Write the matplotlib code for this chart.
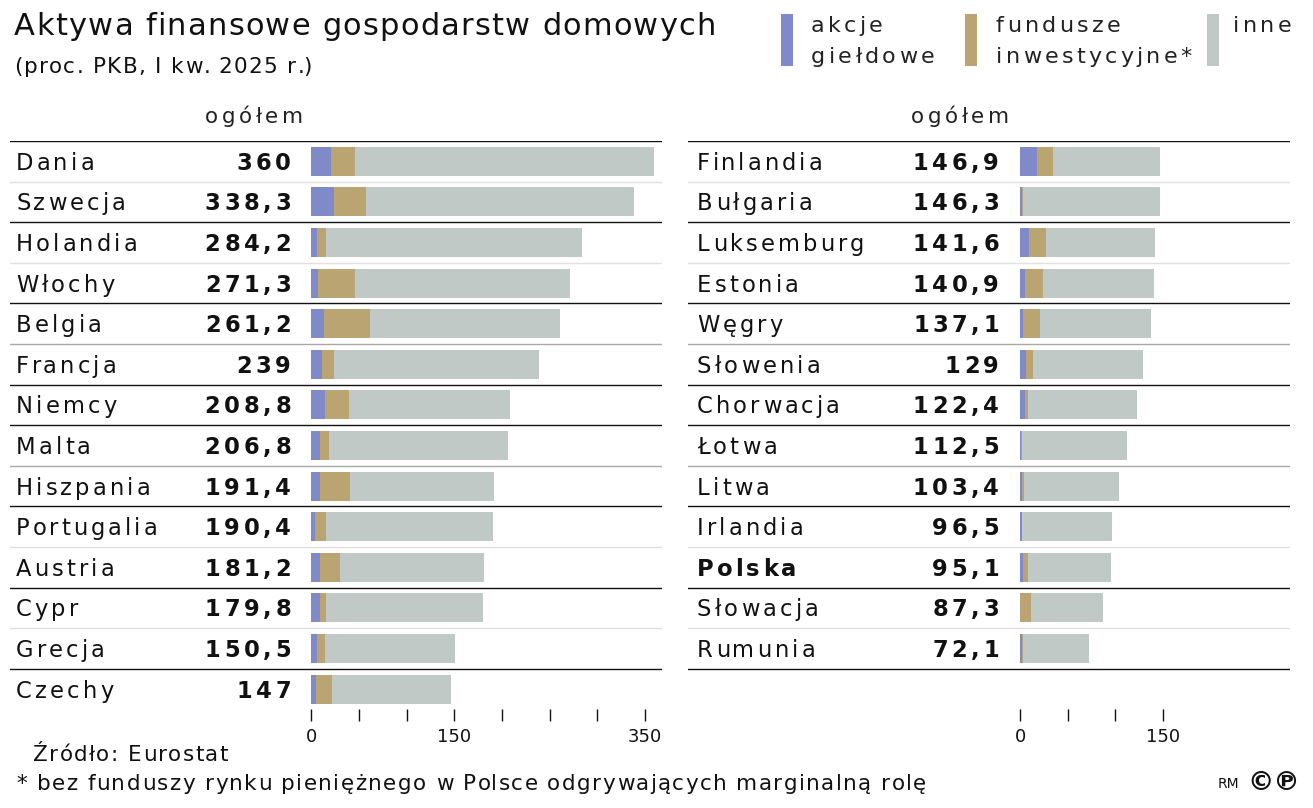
import numpy as np
import matplotlib
matplotlib.use("Agg")
import matplotlib.pyplot as plt
from matplotlib.patches import Rectangle
from matplotlib.font_manager import FontProperties

# data (proc. PKB, I kw. 2025)
left_countries = ["Dania", "Szwecja", "Holandia", "Włochy", "Belgia", "Francja", "Niemcy",
                  "Malta", "Hiszpania", "Portugalia", "Austria", "Cypr", "Grecja", "Czechy"]
left_total = [360, 338.3, 284.2, 271.3, 261.2, 239, 208.8, 206.8, 191.4, 190.4, 181.2, 179.8, 150.5, 147]
left_akcje = [21.2, 23.6, 5.6, 7.3, 13.9, 11.1, 14.6, 9.7, 9.7, 3.5, 9.7, 9.0, 6.3, 4.5]
left_fundusze = [24.3, 34.0, 10.0, 38.2, 47.9, 13.2, 25.3, 9.4, 30.6, 11.8, 20.9, 7.0, 8.3, 17.7]

right_countries = ["Finlandia", "Bułgaria", "Luksemburg", "Estonia", "Węgry", "Słowenia", "Chorwacja",
                   "Łotwa", "Litwa", "Irlandia", "Polska", "Słowacja", "Rumunia"]
right_total = [146.9, 146.3, 141.6, 140.9, 137.1, 129, 122.4, 112.5, 103.4, 96.5, 95.1, 87.3, 72.1]
right_akcje = [18.1, 2.1, 9.1, 5.2, 3.5, 6.6, 5.6, 0.7, 1.6, 2.1, 3.1, 0.5, 1.8]
right_fundusze = [16.7, 1.0, 18.1, 19.2, 17.1, 7.3, 2.8, 1.7, 2.6, 0.4, 5.6, 10.6, 1.0]

C_AKCJE = "#808ac8"
C_FUND = "#baa472"
C_INNE = "#c1c9c6"

# row separator shades as they appear in the original
sep_colors = ["#111111", "#e4e0e0", "#111111", "#e4e0e0", "#111111", "#a8a8a8", "#111111",
              "#111111", "#a8a8a8", "#111111", "#e4e0e0", "#111111", "#e4e0e0", "#111111"]

W, H = 1313, 808
fig = plt.figure(figsize=(W / 100, H / 100), dpi=100)
fig.patch.set_facecolor("white")
renderer = fig.canvas.get_renderer()

FONT = "DejaVu Sans"
TXT = "#111111"

TOP_PX = 141
ROW_PX = 40.6


def fx(px):
    return px / W


def fy(py):
    return 1 - py / H


def format_pl(v):
    return f"{v:g}".replace(".", ",")


def text_w(s, prop):
    w, h, d = renderer.get_text_width_height_descent(s, prop, ismath=False)
    return w


# matplotlib has no letter-spacing, so place the characters one by one
def tracked_text(x, y, s, size, tracking=0.0, ha="left", weight="normal", color=TXT, fit_width=None):
    prop = FontProperties(family=FONT, size=size, weight=weight)
    base = text_w("l", prop)
    offs = [0.0] + [text_w(s[:i] + "l", prop) - base for i in range(1, len(s))]
    if fit_width is not None:
        tracking = (fit_width - text_w(s, prop)) / (len(s) - 1)
    total = text_w(s, prop) + tracking * (len(s) - 1)
    if ha == "right":
        x0 = x - total
    elif ha == "center":
        x0 = x - total / 2
    else:
        x0 = x
    for i, ch in enumerate(s):
        if ch == " ":
            continue
        fig.text(fx(x0 + offs[i] + tracking * i), fy(y), ch, fontproperties=prop,
                 ha="left", va="baseline", color=color)


def draw_panel(rect, xlim, countries, total, akcje, fundusze, label_px, value_px, head_px, ticks, ticklabels):
    ax = fig.add_axes(rect)
    n = len(countries)
    y = np.arange(n)
    akcje = np.array(akcje)
    fundusze = np.array(fundusze)
    inne = np.array(total) - akcje - fundusze
    ax.barh(y, akcje, height=0.71, color=C_AKCJE, linewidth=0)
    ax.barh(y, fundusze, left=akcje, height=0.71, color=C_FUND, linewidth=0)
    ax.barh(y, inne, left=akcje + fundusze, height=0.71, color=C_INNE, linewidth=0)
    ax.set_xlim(*xlim)
    ax.set_ylim(13.5, -0.5)
    for i, c in enumerate(sep_colors):
        ax.axhline(i - 0.5, color=c, lw=1.0, zorder=0)
    for i, name in enumerate(countries):
        base_y = TOP_PX + ROW_PX * (i + 0.5) + 8.5
        w = "bold" if name == "Polska" else "normal"
        tracked_text(label_px, base_y, name, 16.3, 3.1, weight=w)
        tracked_text(value_px, base_y, format_pl(total[i]), 16.3, 3.7, ha="right", weight="bold")
    tracked_text(head_px, 123, "ogółem", 15.5, 3.4, ha="center", color="#222222")
    for s in ax.spines.values():
        s.set_visible(False)
    ax.set_yticks([])
    ax.set_xticks(ticks)
    ax.set_xticklabels(ticklabels, fontsize=13, family=FONT, color=TXT)
    ax.tick_params(axis="x", length=8.6, width=1.0, color="#111111", pad=5)
    return ax


bot_px = TOP_PX + 14 * ROW_PX
ax_h = (bot_px - TOP_PX) / H

draw_panel([fx(10), fy(bot_px), fx(652), ax_h], (-316, 368),
           left_countries, left_total, left_akcje, left_fundusze,
           16, 291, 254, list(range(0, 351, 50)),
           ["0", "", "", "150", "", "", "", "350"])

draw_panel([fx(688), fy(bot_px), fx(602), ax_h], (-348, 283),
           right_countries, right_total, right_akcje, right_fundusze,
           697, 999, 960, [0, 50, 100, 150],
           ["0", "", "", "150"])

# title
tracked_text(14, 35, "Aktywa finansowe gospodarstw domowych", 22, fit_width=702)
tracked_text(14, 73, "(proc. PKB, I kw. 2025 r.)", 15.5, fit_width=298)

# legend
legend_items = [(781, C_AKCJE, 811, ["akcje", "giełdowe"]),
                (965, C_FUND, 996, ["fundusze", "inwestycyjne*"]),
                (1207, C_INNE, 1233, ["inne"])]
for rx, col, tx, lines in legend_items:
    fig.add_artist(Rectangle((fx(rx), fy(66)), fx(12), 52 / H, transform=fig.transFigure,
                             facecolor=col, edgecolor="none"))
    for k, line in enumerate(lines):
        tracked_text(tx, 32 + 31 * k, line, 16, 3.3, color="#222222")

# footer
tracked_text(33, 761, "Źródło: Eurostat", 15.5, fit_width=195)
tracked_text(16, 790, "* bez funduszy rynku pieniężnego w Polsce odgrywających marginalną rolę",
             15.5, fit_width=910)
fig.text(fx(1218), fy(784), "RM", fontsize=10, family=FONT, ha="left", va="center", color=TXT)
fig.text(fx(1247), fy(783), "©℗", fontsize=19, family=FONT, fontweight="bold",
         ha="left", va="center", color=TXT)

fig.savefig("out.png", dpi=100, facecolor="white")
